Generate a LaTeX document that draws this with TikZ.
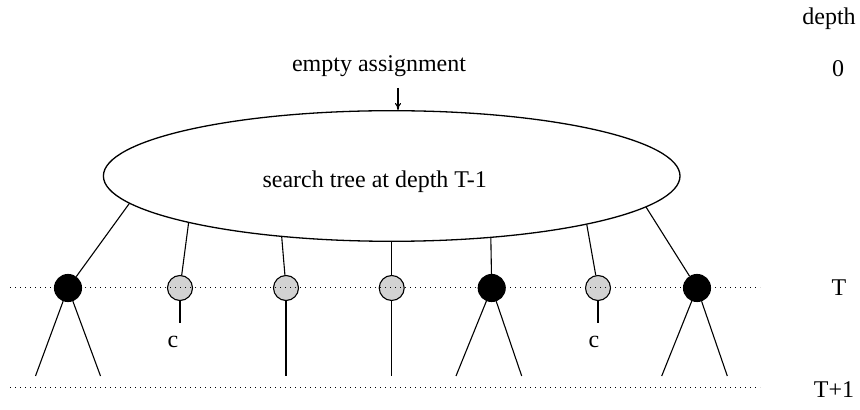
\documentclass[tikz,border=0pt]{standalone}
\usepackage{fontspec}
\setmainfont{Liberation Serif}
\usetikzlibrary{shapes.geometric}
\usetikzlibrary{arrows.meta}
\tikzstyle{fullnode} = [draw, circle, fill=black, minimum size=13.5pt, inner sep=0pt]
\tikzstyle{opennode} = [draw, circle, fill=gray!35, minimum size=12.5pt, inner sep=0pt]
\tikzstyle{treenode} = [draw, ellipse, line width=0.65pt, minimum width=288.3pt, minimum height=65.3pt, inner sep=0pt]
\tikzstyle{levelline} = [dotted, line width=0.5pt]

\begin{document}
\begin{tikzpicture}[x=0.5pt, y=-0.5pt, line width=0.55pt, >={To[length=3.5pt,width=3pt]},
    every node/.style={font=\fontsize{12}{14}\selectfont}]
  \useasboundingbox (0,0) rectangle (860,410);

  % search tree and its root
  \node[treenode] (tree) at (391.7,176) {};
  \node (label) at (374.7,182) {search tree at depth T-1};
  \node (empty) at (379,66) {empty assignment};
  \coordinate (tip) at (398,88);
  \draw[->] (tip) -- (tip |- tree.north);

  % depth column
  \node (depth) at (829,19) {depth};
  \node (d0) at (838,69) {0};
  \node (dT) at (839,288) {T};
  \node (dT1) at (834,390) {T+1};

  % nodes at depth T
  \node[fullnode] (n1) at (68,288) {};
  \node[opennode] (n2) at (180,288) {};
  \node[opennode] (n3) at (286,288) {};
  \node[opennode] (n4) at (391.7,288) {};
  \node[fullnode] (n5) at (491.7,288) {};
  \node[opennode] (n6) at (598,288) {};
  \node[fullnode] (n7) at (697,288) {};

  \draw (tree.186.7) -- (n1);
  \draw (tree.193.1) -- (n2);
  \draw (tree.209.5) -- (n3);
  \draw (tree.270) -- (n4);
  \draw (tree.328) -- (n5);
  \draw (tree.346.4) -- (n6);
  \draw (tree.353.9) -- (n7);

  % below depth T
  \coordinate (n1a) at (35.5,376);
  \coordinate (n1b) at (100.5,376);
  \coordinate (n3a) at (286,376);
  \coordinate (n4a) at (391.7,376);
  \coordinate (n5a) at (456,376);
  \coordinate (n5b) at (521.7,376);
  \coordinate (n7a) at (661.7,376);
  \coordinate (n7b) at (727.3,376);
  \coordinate (n2a) at (180,322.7);
  \coordinate (n6a) at (598,322.7);
  \node (c2) at (173,342) {c};
  \node (c6) at (594,342) {c};

  \draw (n1) -- (n1a);
  \draw (n1) -- (n1b);
  \draw (n2) -- (n2a);
  \draw (n3) -- (n3a);
  \draw (n4) -- (n4a);
  \draw (n5) -- (n5a);
  \draw (n5) -- (n5b);
  \draw (n6) -- (n6a);
  \draw (n7) -- (n7a);
  \draw (n7) -- (n7b);

  % levels
  \coordinate (tl) at (10,288);
  \coordinate (tr) at (760,288);
  \coordinate (ul) at (10,387.3);
  \coordinate (ur) at (760,387.3);
  \draw[levelline] (tl) -- (tr);
  \draw[levelline] (ul) -- (ur);
\end{tikzpicture}
\end{document}
